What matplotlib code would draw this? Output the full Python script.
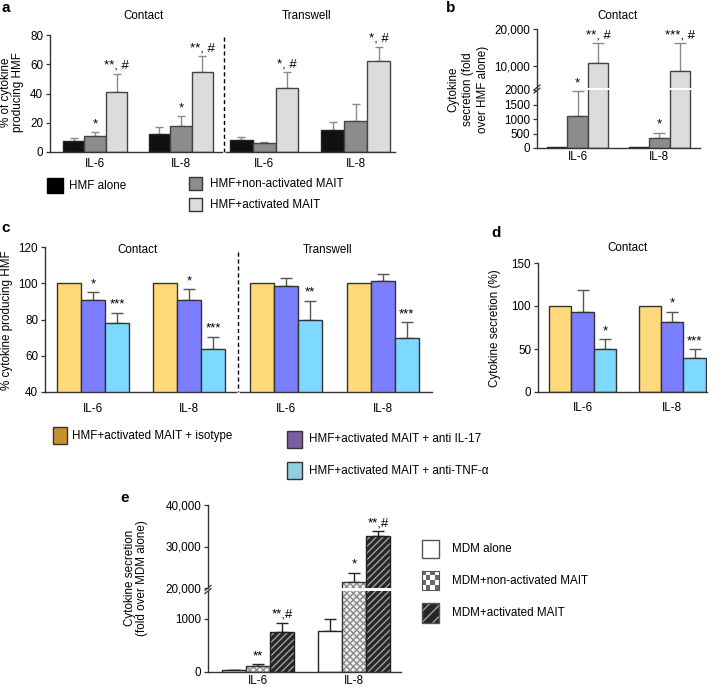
import numpy as np
import matplotlib
matplotlib.use('Agg')
import matplotlib.pyplot as plt
from matplotlib.patches import Rectangle
from matplotlib.lines import Line2D

plt.rcParams['font.family'] = ['Liberation Sans', 'DejaVu Sans']
plt.rcParams['font.size'] = 8.4
plt.rcParams['hatch.linewidth'] = 1.0

groups = ['IL-6', 'IL-8']

# panel a : % of cytokine producing HMF
a_con_alone, a_con_alone_sd = [7.5, 12.5], [2, 4.5]
a_con_non, a_con_non_sd = [11, 18], [2.5, 6.5]
a_con_act, a_con_act_sd = [41, 54.5], [12.5, 11]
a_tw_alone, a_tw_alone_sd = [8, 15], [2.5, 5.5]
a_tw_non, a_tw_non_sd = [6, 21.5], [1, 11.5]
a_tw_act, a_tw_act_sd = [44, 62.5], [10.5, 9.5]
a_con_non_sig, a_con_act_sig = ['*', '*'], ['**, #', '**, #']
a_tw_non_sig, a_tw_act_sig = ['', ''], ['*, #', '*, #']
a_yticks = [0, 20, 40, 60, 80]

# panel b : fold over HMF alone (contact)
b_alone, b_alone_sd = [50, 50], [0, 0]
b_non, b_non_sd = [1100, 340], [860, 190]
b_act, b_act_sd = [10800, 8600], [5350, 7550]
b_non_sig, b_act_sig = ['*', '*'], ['**, #', '***, #']
b_low_ticks, b_low_labels = [0, 500, 1000, 1500, 2000], ['0', '500', '1000', '1500', '2000']
b_high_ticks, b_high_labels = [10000, 20000], ['10,000', '20,000']

# panel c : % cytokine producing HMF with blocking antibodies
c_con_iso, c_con_iso_sd = [100, 100], [0, 0]
c_con_il17, c_con_il17_sd = [90.5, 91], [4.6, 5.7]
c_con_tnf, c_con_tnf_sd = [77.8, 64], [6, 6.5]
c_tw_iso, c_tw_iso_sd = [100.2, 100.2], [0, 0]
c_tw_il17, c_tw_il17_sd = [98.5, 101.5], [4.4, 3.8]
c_tw_tnf, c_tw_tnf_sd = [80, 69.6], [10.3, 8.8]
c_con_il17_sig, c_con_tnf_sig = ['*', '*'], ['***', '***']
c_tw_il17_sig, c_tw_tnf_sig = ['', ''], ['**', '***']
c_yticks = [40, 60, 80, 100, 120]

# panel d : cytokine secretion (%)
d_iso, d_iso_sd = [100, 100], [0, 0]
d_il17, d_il17_sd = [93.5, 81.5], [25.5, 12]
d_tnf, d_tnf_sd = [50.5, 40], [11, 9.5]
d_il17_sig, d_tnf_sig = ['', '*'], ['*', '***']
d_yticks = [0, 50, 100, 150]

# panel e : fold over MDM alone
e_alone, e_alone_sd = [30, 775], [0, 225]
e_non, e_non_sd = [110, 21450], [40, 2200]
e_act, e_act_sd = [755, 32650], [170, 1000]
e_alone_sig, e_non_sig, e_act_sig = ['', ''], ['**', '*'], ['**,#', '**,#']
e_low_ticks, e_low_labels = [0, 1000], ['0', '1000']
e_high_ticks, e_high_labels = [20000, 30000, 40000], ['20,000', '30,000', '40,000']

W, H = 717, 689
fig = plt.figure(figsize=(W / 100, H / 100), dpi=100)


def box(x0, y0, x1, y1):
    return fig.add_axes([x0 / W, 1 - y1 / H, (x1 - x0) / W, (y1 - y0) / H])


def ftext(x, y, s, **kw):
    fig.text(x / W, 1 - y / H, s, **kw)


def swatch(x0, y0, x1, y1, **kw):
    fig.add_artist(Rectangle((x0 / W, 1 - y1 / H), (x1 - x0) / W, (y1 - y0) / H,
                             transform=fig.transFigure, **kw))


def fline(xs, ys, **kw):
    fig.add_artist(Line2D([x / W for x in xs], [1 - y / H for y in ys],
                          transform=fig.transFigure, **kw))


def style(ax, left=True, bottom=True, ypad=2, xpad=4):
    for k in ['top', 'right']:
        ax.spines[k].set_visible(False)
    ax.spines['left'].set_visible(left)
    ax.spines['bottom'].set_visible(bottom)
    for sp in ax.spines.values():
        sp.set_color('#333333')
        sp.set_linewidth(1)
    ax.tick_params(axis='y', length=3, width=0.9, color='#333333', pad=ypad, labelsize=8.4)
    ax.tick_params(axis='x', length=0, pad=xpad, labelsize=8.4)
    if not left:
        ax.set_yticks([])
    if bottom:
        ax.set_xticks(np.arange(len(groups)) * 4 + 1)
        ax.set_xticklabels(groups)
    else:
        ax.set_xticks([])
    ax.patch.set_alpha(0)


def draw(axes, series, cap):
    for s, (vals, sd, st, sig) in enumerate(series):
        x = np.arange(len(groups)) * 4 + s
        for ax in axes:
            if 'hatch' in st:
                ax.bar(x, vals, 1, color=st['fc'], edgecolor=st['hc'], hatch=st['hatch'], lw=0, zorder=2)
                ax.bar(x, vals, 1, fill=False, edgecolor=st['ec'], lw=1, zorder=3)
            else:
                ax.bar(x, vals, 1, color=st['fc'], edgecolor=st['ec'], lw=1, zorder=2)
            if any(sd):
                ax.errorbar(x, vals, yerr=[np.zeros(len(sd)), sd], fmt='none', ecolor=st['err'],
                            elinewidth=1, capsize=cap, capthick=1, zorder=1)
        for xi, v, e, t in zip(x, vals, sd, sig):
            if not t:
                continue
            top = v + e
            for ax in axes:
                lo, hi = ax.get_ylim()
                if lo <= top <= hi:
                    ax.annotate(t, (xi, top), xytext=(0, 1.5), textcoords='offset points',
                                ha='center', va='bottom', fontsize=9.5, annotation_clip=False)
                    break


def break_mark(x, y):
    for dy in (-1.6, 1.6):
        fline([x - 3, x + 3], [y + dy + 2.5, y + dy - 2.5], color='#333333', lw=0.9)


# ---------- panel a
gk = dict(fc='#111111', ec='#222222', err='#8a8a8a')
gm = dict(fc='#8c8c8c', ec='#444444', err='#8a8a8a')
gl = dict(fc='#dcdcdc', ec='#444444', err='#8a8a8a')

ax = box(50, 35, 222, 152)
ax.set_ylim(0, 80); ax.set_xlim(-1.11, 6.92)
style(ax, xpad=4)
ax.set_yticks(a_yticks)
draw([ax], [(a_con_alone, a_con_alone_sd, gk, ['', '']),
            (a_con_non, a_con_non_sd, gm, a_con_non_sig),
            (a_con_act, a_con_act_sd, gl, a_con_act_sig)], cap=2.6)
ax = box(226, 35, 395, 152)
ax.set_ylim(0, 80); ax.set_xlim(-0.67, 6.72)
style(ax, left=False, xpad=4)
draw([ax], [(a_tw_alone, a_tw_alone_sd, gk, ['', '']),
            (a_tw_non, a_tw_non_sd, gm, a_tw_non_sig),
            (a_tw_act, a_tw_act_sd, gl, a_tw_act_sig)], cap=2.6)
fline([223.5, 223.5], [37, 152], color='black', lw=1, ls=(0, (3, 2)))
ftext(143, 16, 'Contact', ha='center', va='center')
ftext(307, 16, 'Transwell', ha='center', va='center')
ftext(12, 92, '% of cytokine\nproducing HMF', rotation=90, ha='center', va='center',
      multialignment='center', linespacing=1.05)
swatch(47, 178, 63, 193, fc='black', ec='black')
ftext(69, 186, 'HMF alone', va='center')
swatch(189, 177, 202, 190, fc='#8c8c8c', ec='#333333', lw=1)
ftext(210, 184, 'HMF+non-activated MAIT', va='center')
swatch(189, 198, 202, 211, fc='#dcdcdc', ec='#333333', lw=1)
ftext(210, 205, 'HMF+activated MAIT', va='center')

# ---------- panel b
hi = box(537, 29, 700, 88)
lo = box(537, 90, 700, 148)
hi.set_ylim(4050, 20000); lo.set_ylim(0, 2000)
for a_ in (hi, lo):
    a_.set_xlim(-0.99, 6.99)
style(hi, bottom=False)
style(lo, xpad=2)
hi.set_yticks(b_high_ticks); hi.set_yticklabels(b_high_labels)
lo.set_yticks(b_low_ticks); lo.set_yticklabels(b_low_labels)
draw([lo, hi], [(b_alone, b_alone_sd, gk, ['', '']),
                (b_non, b_non_sd, gm, b_non_sig),
                (b_act, b_act_sd, gl, b_act_sig)], cap=4.2)
break_mark(537, 89)
ftext(617, 16, 'Contact', ha='center', va='center')
ftext(468, 89, 'Cytokine\nsecretion (fold\nover HMF alone)', rotation=90, ha='center',
      va='center', multialignment='center', linespacing=1.3)

# ---------- panels c and d
cy = dict(fc='#ffd97a', ec='#333333', err='#555555')
cb = dict(fc='#7b7fff', ec='#333333', err='#555555')
cc = dict(fc='#7dd9ff', ec='#333333', err='#555555')

ax = box(45, 247, 236, 392)
ax.set_ylim(40, 120); ax.set_xlim(-1.0, 6.96)
style(ax, xpad=8)
ax.set_yticks(c_yticks)
draw([ax], [(c_con_iso, c_con_iso_sd, cy, ['', '']),
            (c_con_il17, c_con_il17_sd, cb, c_con_il17_sig),
            (c_con_tnf, c_con_tnf_sd, cc, c_con_tnf_sig)], cap=4.3)
ax = box(240, 247, 432, 392)
ax.set_ylim(40, 120); ax.set_xlim(-0.915, 7.04)
style(ax, left=False, xpad=8)
draw([ax], [(c_tw_iso, c_tw_iso_sd, cy, ['', '']),
            (c_tw_il17, c_tw_il17_sd, cb, c_tw_il17_sig),
            (c_tw_tnf, c_tw_tnf_sd, cc, c_tw_tnf_sig)], cap=4.3)
fline([237.5, 237.5], [252, 392], color='black', lw=1, ls=(0, (3, 2)))
ftext(137, 250, 'Contact', ha='center', va='center')
ftext(328, 250, 'Transwell', ha='center', va='center')
ftext(7, 320, '% cytokine producing HMF', rotation=90, ha='center', va='center')
swatch(53, 427, 67, 444, fc='#c4922f', ec='#333333', lw=1)
ftext(72, 435.5, 'HMF+activated MAIT + isotype', va='center')
swatch(287, 431, 302, 448, fc='#7b5ea4', ec='#333333', lw=1)
ftext(309, 439.5, 'HMF+activated MAIT + anti IL-17', va='center')
swatch(287, 462, 302, 479, fc='#8fcfe0', ec='#333333', lw=1)
ftext(309, 470.5, 'HMF+activated MAIT + anti-TNF-\u03b1', va='center')

ax = box(538, 263, 707, 392)
ax.set_ylim(0, 150); ax.set_xlim(-0.99, 6.55)
style(ax, xpad=7)
ax.set_yticks(d_yticks)
draw([ax], [(d_iso, d_iso_sd, cy, ['', '']),
            (d_il17, d_il17_sd, cb, d_il17_sig),
            (d_tnf, d_tnf_sd, cc, d_tnf_sig)], cap=4.3)
ftext(627, 248, 'Contact', ha='center', va='center')
ftext(495, 328, 'Cytokine secretion (%)', rotation=90, ha='center', va='center')

# ---------- panel e
ew = dict(fc='white', ec='#222222', err='#222222')
ec_ = dict(fc='#f0f0f0', hc='#8a8a8a', hatch='xxxxx', ec='#333333', err='#222222')
eh = dict(fc='#262626', hc='#a0a0a0', hatch='/////', ec='#222222', err='#222222')

hi = box(208, 505, 401, 588)
lo = box(208, 591, 401, 672)
hi.set_ylim(20000, 40000); lo.set_ylim(0, 1528)
for a_ in (hi, lo):
    a_.set_xlim(-1.08, 6.96)
style(hi, bottom=False)
style(lo, xpad=2.5)
hi.set_yticks(e_high_ticks); hi.set_yticklabels(e_high_labels)
lo.set_yticks(e_low_ticks); lo.set_yticklabels(e_low_labels)
draw([lo, hi], [(e_alone, e_alone_sd, ew, e_alone_sig),
                (e_non, e_non_sd, ec_, e_non_sig),
                (e_act, e_act_sd, eh, e_act_sig)], cap=4.3)
break_mark(208, 589.5)
ftext(136, 578, 'Cytokine secretion\n(fold over MDM alone)', rotation=90, ha='center',
      va='center', multialignment='center', linespacing=1.1)
swatch(422, 540, 439, 558, fc='white', ec='#555555', lw=1)
ftext(452, 549, 'MDM alone', va='center')
sw = box(422, 571, 439, 590)
sw.imshow(np.indices((4, 4)).sum(0) % 2, cmap='gray', vmin=-0.7, vmax=1.0,
          interpolation='nearest', aspect='auto')
sw.set_xticks([]); sw.set_yticks([])
for sp in sw.spines.values():
    sp.set_color('#555555')
ftext(452, 580.5, 'MDM+non-activated MAIT', va='center')
swatch(422, 603, 439, 623, fc='#262626', ec='#a0a0a0', hatch='///', lw=0)
swatch(422, 603, 439, 623, fill=False, ec='#555555', lw=1)
ftext(452, 613, 'MDM+activated MAIT', va='center')

# panel letters
for (px, py, s) in [(1, 12, 'a'), (446, 12, 'b'), (1, 232, 'c'), (491, 237, 'd'), (120, 502, 'e')]:
    ftext(px, py, s, fontsize=11, fontweight='bold', va='baseline')

fig.savefig('out.png', dpi=100)
